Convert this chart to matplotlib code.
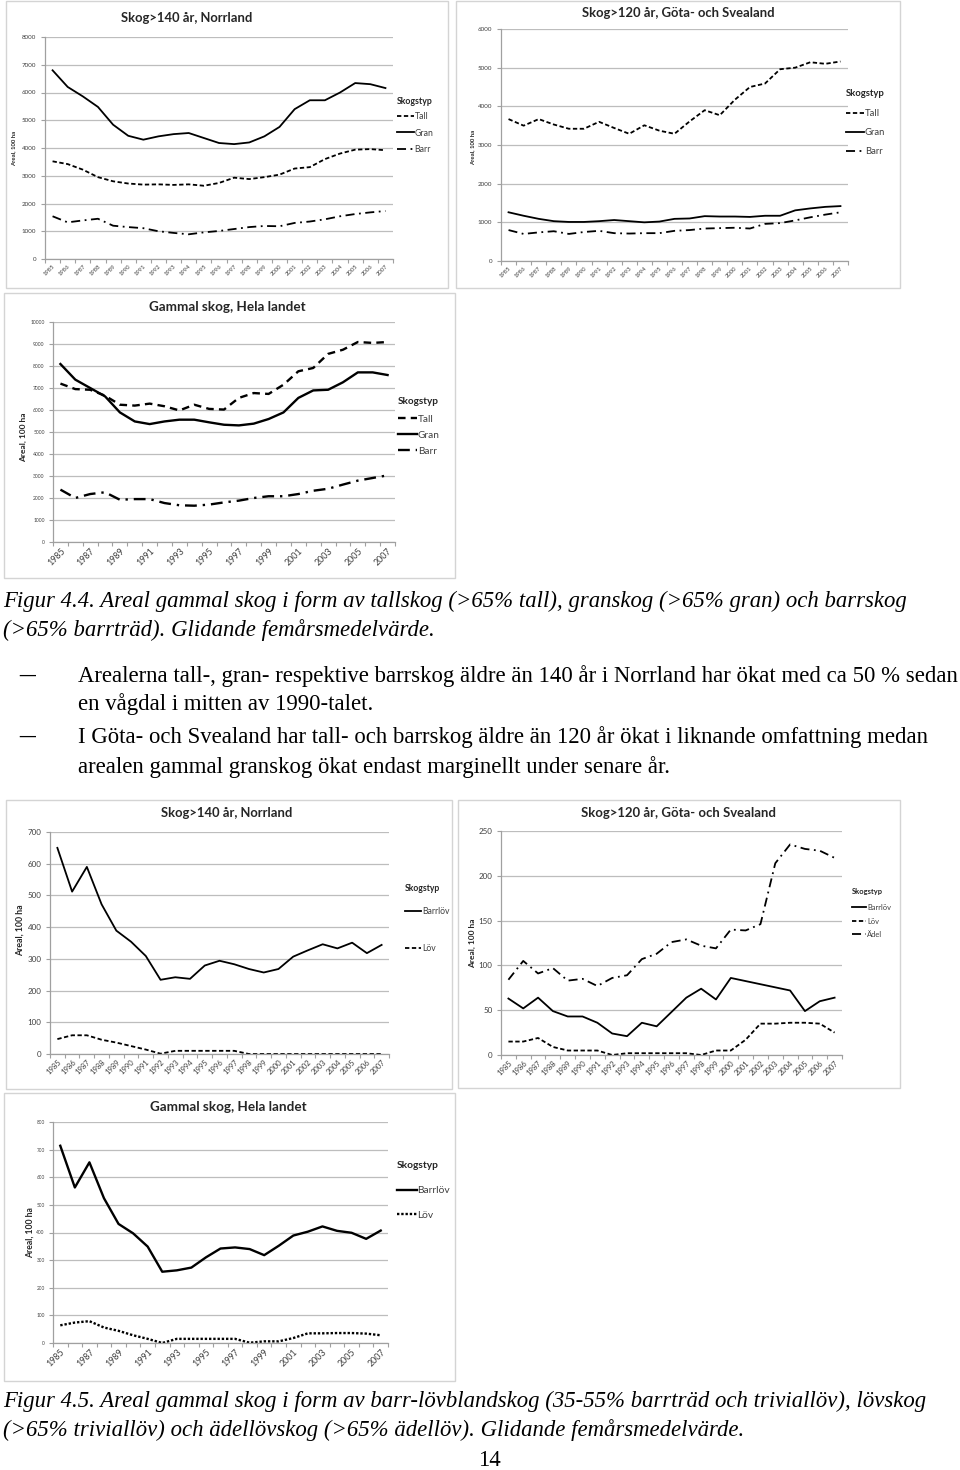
import matplotlib
matplotlib.use('Agg')
import matplotlib.pyplot as plt
from matplotlib.patches import Rectangle

W, H = 960, 1470
years = list(range(1985, 2008))
year_labels = [str(y) for y in years]

# ---- Figur 4.4 : Norrland (>140 år) ----
norr_tall = [3520, 3420, 3220, 2950, 2800, 2720, 2680, 2690, 2670, 2690, 2640, 2740,
             2930, 2880, 2950, 3040, 3260, 3310, 3600, 3800, 3940, 3960, 3920]
norr_gran = [6800, 6200, 5860, 5480, 4840, 4440, 4300, 4420, 4500, 4540, 4360, 4180,
             4140, 4200, 4420, 4760, 5400, 5720, 5720, 6000, 6340, 6300, 6160]
norr_barr = [1540, 1320, 1390, 1450, 1200, 1150, 1110, 1000, 940, 890, 960, 1010,
             1080, 1150, 1190, 1180, 1300, 1350, 1430, 1540, 1620, 1680, 1730]

# ---- Figur 4.4 : Göta- och Svealand (>120 år) ----
gs_tall = [3670, 3500, 3670, 3530, 3420, 3420, 3600, 3440, 3290, 3510, 3370, 3290,
           3610, 3900, 3770, 4170, 4500, 4590, 4960, 5000, 5140, 5100, 5160]
gs_gran = [1260, 1170, 1090, 1030, 1010, 1010, 1030, 1060, 1030, 1000, 1020, 1090,
           1100, 1160, 1150, 1150, 1140, 1170, 1170, 1310, 1360, 1400, 1420]
gs_barr = [800, 700, 740, 770, 700, 750, 780, 720, 710, 720, 720, 780,
           800, 840, 850, 860, 840, 960, 980, 1050, 1130, 1200, 1260]

# ---- Figur 4.4 : Hela landet ----
hl_tall = [7200, 6950, 6920, 6650, 6240, 6200, 6290, 6170, 5980, 6240, 6050, 6020,
           6550, 6770, 6730, 7150, 7760, 7910, 8550, 8740, 9090, 9050, 9090]
hl_gran = [8090, 7380, 7000, 6620, 5890, 5480, 5360, 5480, 5560, 5560, 5440, 5330,
           5300, 5380, 5590, 5890, 6550, 6890, 6920, 7260, 7710, 7710, 7590]
hl_barr = [2380, 2000, 2180, 2260, 1920, 1950, 1950, 1770, 1670, 1650, 1700, 1800,
           1880, 2000, 2080, 2080, 2180, 2330, 2420, 2610, 2790, 2910, 3030]

# ---- Figur 4.5 : Norrland (>140 år) ----
norr_barrlov = [650, 512, 590, 472, 389, 354, 309, 234, 242, 237, 279, 294,
                283, 268, 257, 268, 307, 327, 346, 333, 351, 318, 344]
norr_lov = [47, 59, 59, 45, 36, 25, 14, 1, 10, 10, 10, 10,
            10, 0, 0, 0, 0, 0, 0, 0, 0, 0, 0]

# ---- Figur 4.5 : Göta- och Svealand (>120 år) ----
gs_barrlov = [63, 52, 64, 49, 43, 43, 36, 24, 21, 36, 32, 48,
              64, 74, 62, 86, 82.5, 79, 75.5, 72, 49, 60, 64]
gs_lov = [15, 15, 19, 9, 5, 5, 5, 0, 2, 2, 2, 2,
          2, 0, 5, 5, 17, 35, 35, 36, 36, 35, 25]
gs_adel = [84, 105, 91, 97, 83, 85, 77, 86, 89, 107, 113, 126,
           129, 122, 119, 140, 139, 146, 214, 235, 230, 228, 220]

# ---- Figur 4.5 : Hela landet ----
hl_barrlov = [714, 563, 654, 524, 431, 397, 349, 258, 263, 273, 310, 342,
              346, 340, 318, 352, 389, 403, 422, 406, 399, 377, 407]
hl_lov = [64, 74, 79, 56, 44, 28, 15, 0, 15, 15, 15, 15,
          15, 1, 6, 6, 18, 35, 35, 36, 36, 34, 28]

plt.rcParams['font.family'] = ['Lato', 'DejaVu Sans']

fig = plt.figure(figsize=(W / 100, H / 100), dpi=100)
fig.patch.set_facecolor('white')

AXIS_C = '#a0a0a0'
GRID_C = '#bdbdbd'
TXT_C = '#404040'


def fx(x):
    return x / W


def fy(y):
    return 1 - y / H


def box(x0, y0, x1, y1):
    fig.patches.append(Rectangle((fx(x0), fy(y1)), (x1 - x0) / W, (y1 - y0) / H,
                                 transform=fig.transFigure, fill=False,
                                 edgecolor='#d4d4d4', lw=1.0))


SOLID = '-'
DASH = (0, (2.4, 1.4))
DASH_LONG = (0, (3.2, 2.2))
DASHDOT = (0, (5, 2.5, 1, 2.5))
DOT = (0, (1, 0.8))


def chart(rect, frame, series, labels, styles, ymax, ystep, title, title_xy,
          title_size, leg, ylabel_xy, ylabel_size, ytick_size, ytick_pad,
          xtick_size, xstep, lw):
    box(*frame)
    l, t, r, b = rect
    ax = fig.add_axes([fx(l), fy(b), (r - l) / W, (b - t) / H])
    xs = list(range(len(years)))
    handles = []
    for vals, st in zip(series, styles):
        h, = ax.plot(xs, vals, color='black', lw=lw, linestyle=st,
                     solid_joinstyle='round', dash_capstyle='butt')
        handles.append(h)
    ax.set_xlim(-0.5, len(years) - 0.5)
    ax.set_ylim(0, ymax)
    yt = list(range(0, ymax + 1, ystep))
    ax.set_yticks(yt)
    ax.set_yticklabels([str(v) for v in yt])
    ax.grid(axis='y', color=GRID_C, lw=0.9)
    ax.set_axisbelow(True)
    for s in ['top', 'right']:
        ax.spines[s].set_visible(False)
    for s in ['bottom', 'left']:
        ax.spines[s].set_color(AXIS_C)
        ax.spines[s].set_linewidth(0.9)
    ax.tick_params(axis='y', length=3, width=0.8, color=AXIS_C,
                   labelsize=ytick_size, pad=ytick_pad, labelcolor=TXT_C)
    ax.set_xticks(xs[::xstep])
    ax.set_xticklabels(year_labels[::xstep], rotation=45, ha='right',
                       rotation_mode='anchor')
    ax.set_xticks([x - 0.5 for x in range(len(years) + 1)], minor=True)
    ax.tick_params(axis='x', which='major', length=0, labelsize=xtick_size,
                   pad=3, labelcolor=TXT_C)
    ax.tick_params(axis='x', which='minor', length=3, color=AXIS_C, width=0.8)
    fig.text(fx(title_xy[0]), fy(title_xy[1]), title, ha='center', va='center',
             fontsize=title_size, fontweight='bold', color='#262626')
    fig.text(fx(ylabel_xy[0]), fy(ylabel_xy[1]), 'Areal, 100 ha', rotation=90,
             ha='center', va='center', fontsize=ylabel_size, fontweight='bold',
             color='#262626')
    lx, ly_title, ly_first, spacing_px, lsize = leg
    fig.text(fx(lx), fy(ly_title), 'Skogstyp', ha='left', va='center',
             fontsize=lsize, fontweight='bold', color='#262626')
    em = lsize * 100 / 72
    n = len(labels)
    ly_center = ly_first + spacing_px * (n - 1) / 2
    lg = ax.legend(handles, labels, loc='center left',
                   bbox_to_anchor=(fx(lx), fy(ly_center)),
                   bbox_transform=fig.transFigure, frameon=False,
                   fontsize=lsize, handlelength=1.9, handletextpad=0.1,
                   labelspacing=max(spacing_px / em - 1.0, 0.0),
                   borderpad=0, borderaxespad=0)
    for tx in lg.get_texts():
        tx.set_color(TXT_C)
    return ax


# ---------- Figur 4.4 charts ----------
chart((45, 37, 393, 259), (6, 1, 448, 288),
      [norr_tall, norr_gran, norr_barr], ['Tall', 'Gran', 'Barr'],
      [DASH, SOLID, DASHDOT], 8000, 1000, 'Skog>140 år, Norrland', (187, 18),
      9.35, (397, 101, 117, 16, 6.3), (14, 148), 4.3, 4.5, 3.2, 4.2, 1, 1.3)

chart((501, 29, 848, 261), (456, 1, 900, 288),
      [gs_tall, gs_gran, gs_barr], ['Tall', 'Gran', 'Barr'],
      [DASH, SOLID, DASHDOT], 6000, 1000, 'Skog>120 år, Göta- och Svealand',
      (678, 13), 9.4, (846, 93, 113, 19.5, 6.8), (473, 147), 4.3, 4.5, 3.2, 4.2, 1, 1.3)

chart((53, 322, 395, 542), (4, 293, 455, 578),
      [hl_tall, hl_gran, hl_barr], ['Tall', 'Gran', 'Barr'],
      [DASH_LONG, SOLID, DASHDOT], 10000, 1000, 'Gammal skog, Hela landet',
      (227, 307), 9.7, (398, 402, 418, 17, 7.2), (23, 437), 6.0, 3.6, 3.0, 6.4, 2, 1.7)

# ---------- Figur 4.5 charts ----------
chart((50, 832, 389, 1054), (6, 800, 452, 1089),
      [norr_barrlov, norr_lov], ['Barrlöv', 'Löv'],
      [SOLID, DASH], 700, 100, 'Skog>140 år, Norrland', (227, 813),
      9.35, (405, 889, 912, 36, 6.2), (20, 930), 6.3, 5.8, 3.0, 5.5, 1, 1.3)

chart((501, 831, 842, 1055), (458, 800, 900, 1088),
      [gs_barrlov, gs_lov, gs_adel], ['Barrlöv', 'Löv', 'Ädel'],
      [SOLID, DASH, DASHDOT], 250, 50, 'Skog>120 år, Göta- och Svealand',
      (678, 813), 9.45, (852, 891, 907, 14, 5.4), (472, 943), 6.0, 5.8, 3.0, 5.5, 1, 1.3)

chart((53, 1122, 388, 1343), (4, 1093, 455, 1381),
      [hl_barrlov, hl_lov], ['Barrlöv', 'Löv'],
      [SOLID, DOT], 800, 100, 'Gammal skog, Hela landet', (228, 1107),
      9.7, (397, 1166, 1190, 26, 7.4), (30, 1233), 6.2, 3.4, 3.0, 6.4, 2, 1.7)

# ---------- body text ----------
SERIF = ['Liberation Serif', 'DejaVu Serif']
renderer = fig.canvas.get_renderer()


def fitted_size(s, target_w, style, base=14.0):
    t = fig.text(0, 0, s, fontsize=base, family=SERIF, style=style)
    w = t.get_window_extent(renderer).width
    t.remove()
    return base * target_w / w


cap1 = ['Figur 4.4. Areal gammal skog i form av tallskog (>65% tall), granskog (>65% gran) och barrskog',
        '(>65% barrträd). Glidande femårsmedelvärde.']
bul = ['Arealerna tall-, gran- respektive barrskog äldre än 140 år i Norrland har ökat med ca 50 % sedan',
       'en vågdal i mitten av 1990-talet.',
       'I Göta- och Svealand har tall- och barrskog äldre än 120 år ökat i liknande omfattning medan',
       'arealen gammal granskog ökat endast marginellt under senare år.']
cap2 = ['Figur 4.5. Areal gammal skog i form av barr-lövblandskog (35-55% barrträd och triviallöv), lövskog',
        '(>65% triviallöv) och ädellövskog (>65% ädellöv). Glidande femårsmedelvärde.']

s_cap = fitted_size(cap1[0], 906, 'italic')
s_bul = fitted_size(bul[0], 880, 'normal')

for s, y in zip(cap1, [601, 630]):
    fig.text(fx(3), fy(y), s, fontsize=s_cap, family=SERIF, style='italic',
             va='center', ha='left')
for s, y in zip(bul, [676, 704, 737, 767]):
    fig.text(fx(78), fy(y), s, fontsize=s_bul, family=SERIF, va='center', ha='left')
for y in [676, 737]:
    fig.text(fx(19), fy(y - 1), '–', fontsize=s_bul * 1.4, family=SERIF,
             va='center', ha='left')
for s, y in zip(cap2, [1401, 1430]):
    fig.text(fx(3), fy(y), s, fontsize=s_cap, family=SERIF, style='italic',
             va='center', ha='left')
fig.text(fx(489), fy(1460), '14', fontsize=s_bul, family=SERIF, va='center', ha='center')

fig.savefig('out.png', dpi=100, facecolor='white')
